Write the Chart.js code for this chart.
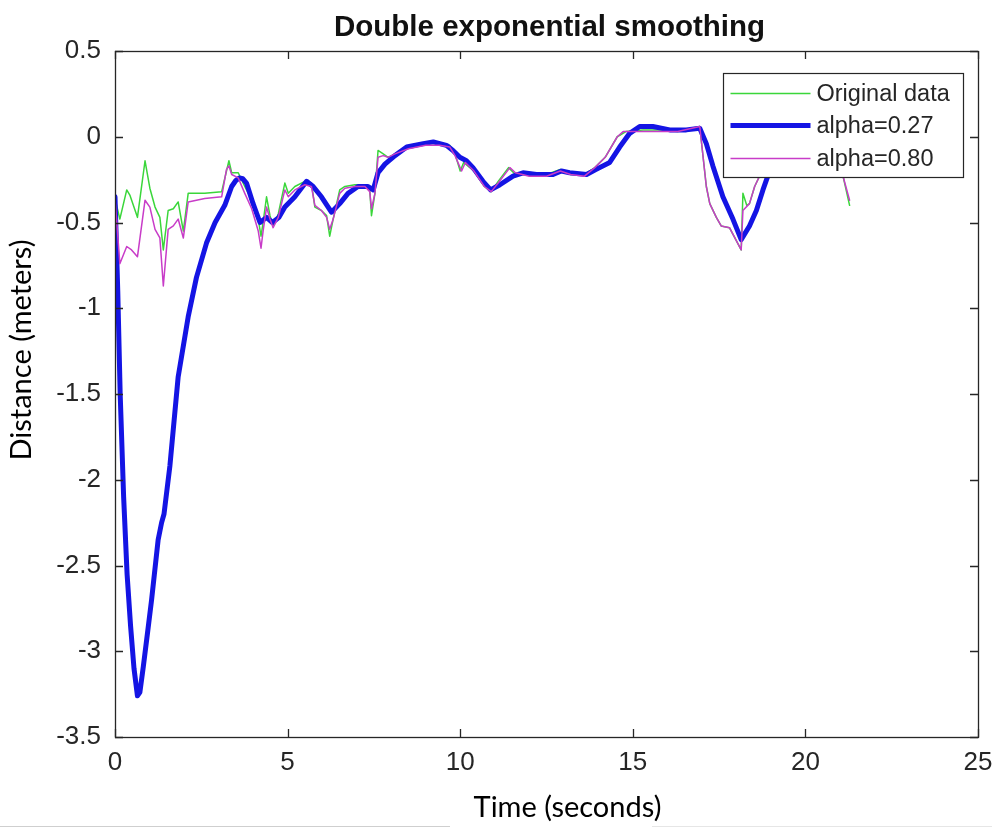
<!DOCTYPE html>
<html><head><meta charset="utf-8">
<script src="https://cdn.jsdelivr.net/npm/chart.js@4.4.1/dist/chart.umd.min.js"></script>
<style>html,body{margin:0;padding:0;background:#fff;}canvas{display:block}</style>
</head><body>
<canvas id="c" width="992" height="828"></canvas>
<script>
const TITLE = 'Double exponential smoothing';
const X_TITLE = 'Time (seconds)';
const Y_TITLE = 'Distance (meters)';
const X_TICKS = [0, 5, 10, 15, 20, 25];
const Y_TICKS = [0.5, 0, -0.5, -1, -1.5, -2, -2.5, -3, -3.5];
const X_TICK_LABELS = ['0', '5', '10', '15', '20', '25'];
const Y_TICK_LABELS = ['0.5', '0', '-0.5', '-1', '-1.5', '-2', '-2.5', '-3', '-3.5'];
const SERIES_NAMES = ['Original data', 'alpha=0.27', 'alpha=0.80'];

const originalTime = [
  0, 0.14, 0.34, 0.43, 0.65, 0.87, 1.01, 1.16, 1.30, 1.40,
  1.54, 1.69, 1.83, 1.98, 2.12, 2.60, 3.09, 3.30, 3.38, 3.57,
  3.76, 3.96, 4.15, 4.23, 4.29, 4.39, 4.49, 4.58, 4.73, 4.92,
  5.02, 5.21, 5.50, 5.69, 5.79, 5.98, 6.13, 6.22, 6.32, 6.51,
  6.66, 6.95, 7.24, 7.38, 7.43, 7.53, 7.62, 7.77, 7.91, 8.11,
  8.50, 9.00, 9.40, 9.70, 9.85, 10.00, 10.10, 10.40, 10.70, 10.90,
  11.10, 11.40, 11.60, 12.00, 12.50, 12.90, 13.20, 13.60, 13.90, 14.20,
  14.55, 14.80, 15.30, 15.80, 16.30, 16.94, 17.13, 17.23, 17.42, 17.56,
  17.80, 18.14, 18.19, 18.30, 18.38, 18.53, 18.67, 19.20, 19.80, 20.50,
  21.09, 21.28
];
const originalValues = [
  -0.36, -0.48, -0.31, -0.34, -0.47, -0.14, -0.30, -0.41, -0.47, -0.66,
  -0.43, -0.42, -0.38, -0.55, -0.33, -0.33, -0.32, -0.14, -0.21, -0.21,
  -0.29, -0.37, -0.48, -0.58, -0.50, -0.35, -0.46, -0.52, -0.45, -0.27,
  -0.33, -0.29, -0.26, -0.27, -0.41, -0.43, -0.46, -0.58, -0.48, -0.31,
  -0.29, -0.28, -0.28, -0.31, -0.46, -0.33, -0.08, -0.10, -0.12, -0.10,
  -0.06, -0.04, -0.04, -0.05, -0.10, -0.20, -0.15, -0.20, -0.29, -0.32,
  -0.26, -0.18, -0.22, -0.22, -0.22, -0.19, -0.22, -0.22, -0.18, -0.12,
  0.00, 0.03, 0.04, 0.04, 0.03, 0.06, -0.29, -0.39, -0.47, -0.52,
  -0.53, -0.66, -0.33, -0.40, -0.39, -0.29, -0.23, -0.02, 0.04, -0.05,
  -0.23, -0.40
];

const alpha27Time = [
  0, 0.08, 0.15, 0.25, 0.35, 0.45, 0.55, 0.65, 0.72, 0.82,
  0.95, 1.06, 1.25, 1.35, 1.42, 1.59, 1.83, 2.12, 2.36, 2.65,
  2.90, 3.18, 3.38, 3.50, 3.60, 3.70, 3.81, 4.00, 4.20, 4.39,
  4.56, 4.75, 4.92, 5.21, 5.55, 5.74, 5.98, 6.27, 6.51, 6.75,
  7.04, 7.33, 7.48, 7.62, 7.82, 8.11, 8.45, 8.93, 9.22, 9.60,
  9.79, 9.99, 10.18, 10.37, 10.66, 10.88, 11.15, 11.53, 11.82, 12.21,
  12.69, 12.93, 13.17, 13.66, 13.94, 14.33, 14.62, 14.91, 15.20, 15.58,
  16.07, 16.55, 16.94, 17.13, 17.32, 17.61, 17.90, 18.14, 18.38, 18.58,
  18.77, 18.91, 19.30, 19.90, 20.60, 21.28
];
const alpha27Values = [
  -0.35, -0.90, -1.50, -2.10, -2.55, -2.85, -3.10, -3.26, -3.24, -3.09,
  -2.88, -2.70, -2.35, -2.25, -2.20, -1.92, -1.40, -1.05, -0.82, -0.62,
  -0.50, -0.40, -0.29, -0.255, -0.24, -0.245, -0.27, -0.39, -0.50, -0.47,
  -0.50, -0.47, -0.41, -0.35, -0.26, -0.29, -0.35, -0.44, -0.39, -0.33,
  -0.29, -0.29, -0.31, -0.21, -0.16, -0.11, -0.06, -0.04, -0.03, -0.05,
  -0.08, -0.12, -0.14, -0.18, -0.26, -0.31, -0.28, -0.23, -0.21, -0.22,
  -0.22, -0.20, -0.21, -0.22, -0.19, -0.15, -0.06, 0.02, 0.06, 0.06,
  0.04, 0.04, 0.05, -0.04, -0.17, -0.35, -0.48, -0.60, -0.52, -0.43,
  -0.31, -0.23, -0.05, 0.03, -0.04, -0.17
];

const alpha80Time = [
  0, 0.14, 0.34, 0.48, 0.65, 0.87, 1.01, 1.16, 1.30, 1.40,
  1.54, 1.69, 1.83, 1.98, 2.12, 2.60, 3.09, 3.23, 3.30, 3.38,
  3.57, 3.76, 3.96, 4.15, 4.23, 4.29, 4.39, 4.49, 4.58, 4.73,
  4.92, 5.02, 5.21, 5.50, 5.69, 5.79, 5.98, 6.13, 6.22, 6.32,
  6.51, 6.66, 6.95, 7.24, 7.38, 7.43, 7.53, 7.62, 7.77, 7.91,
  8.11, 8.50, 9.00, 9.40, 9.70, 9.85, 10.04, 10.15, 10.40, 10.70,
  10.90, 11.10, 11.44, 11.60, 12.00, 12.50, 12.90, 13.20, 13.60, 13.90,
  14.20, 14.55, 14.72, 15.30, 15.80, 16.30, 16.94, 17.13, 17.23, 17.42,
  17.56, 17.80, 18.14, 18.19, 18.38, 18.53, 18.67, 19.20, 19.80, 20.50,
  21.09, 21.28
];
const alpha80Values = [
  -0.36, -0.74, -0.64, -0.66, -0.70, -0.37, -0.41, -0.54, -0.59, -0.87,
  -0.54, -0.52, -0.48, -0.59, -0.38, -0.36, -0.35, -0.19, -0.17, -0.22,
  -0.24, -0.33, -0.42, -0.55, -0.65, -0.55, -0.41, -0.48, -0.53, -0.47,
  -0.31, -0.35, -0.31, -0.28, -0.29, -0.40, -0.43, -0.47, -0.54, -0.48,
  -0.33, -0.30, -0.29, -0.29, -0.32, -0.42, -0.33, -0.12, -0.11, -0.12,
  -0.10, -0.07, -0.05, -0.05, -0.06, -0.11, -0.20, -0.15, -0.20, -0.29,
  -0.32, -0.27, -0.18, -0.21, -0.23, -0.23, -0.20, -0.22, -0.23, -0.18,
  -0.12, 0.00, 0.03, 0.03, 0.03, 0.03, 0.06, -0.29, -0.39, -0.47,
  -0.52, -0.53, -0.66, -0.43, -0.39, -0.29, -0.23, -0.02, 0.04, -0.05,
  -0.23, -0.37
];

const toPoints = (xs, ys) => xs.map((x, i) => ({ x: x, y: ys[i] }));
const COLORS = ['#3ad63a', '#1414e4', '#c83cc8'];
const WIDTHS = [1.5, 5, 1.5];
const AXIS_COLOR = '#262626';
const TICK_FONT = '"Liberation Sans", Arial, sans-serif';

const decor = {
  id: 'decor',
  beforeDraw(chart) {
    const ctx = chart.ctx;
    ctx.save();
    ctx.fillStyle = '#fff';
    ctx.fillRect(0, 0, chart.width, chart.height);
    ctx.restore();
  },
  afterDatasetsDraw(chart) {
    const { ctx, chartArea: a, scales } = chart;
    const xs = scales.x, ys = scales.y;
    ctx.save();
    ctx.strokeStyle = AXIS_COLOR;
    ctx.lineWidth = 1.3;
    ctx.strokeRect(Math.round(a.left) + 0.5, Math.round(a.top) + 0.5,
      Math.round(a.right - a.left), Math.round(a.bottom - a.top));
    const L = 8;
    ctx.beginPath();
    X_TICKS.forEach(v => {
      const px = Math.round(xs.getPixelForValue(v)) + 0.5;
      ctx.moveTo(px, a.bottom); ctx.lineTo(px, a.bottom - L);
      ctx.moveTo(px, a.top); ctx.lineTo(px, a.top + L);
    });
    Y_TICKS.forEach(v => {
      const py = Math.round(ys.getPixelForValue(v)) + 0.5;
      ctx.moveTo(a.left, py); ctx.lineTo(a.left + L, py);
      ctx.moveTo(a.right, py); ctx.lineTo(a.right - L, py);
    });
    ctx.stroke();

    const bw = 240, bh = 104;
    const bx = Math.round(a.right - 15 - bw) + 0.5, by = Math.round(a.top + 22) + 0.5;
    ctx.fillStyle = '#fff';
    ctx.fillRect(bx, by, bw, bh);
    ctx.strokeStyle = AXIS_COLOR;
    ctx.lineWidth = 1.2;
    ctx.strokeRect(bx, by, bw, bh);
    const rows = [by + 20, by + 52, by + 85];
    ctx.font = '23.5px ' + TICK_FONT;
    ctx.textBaseline = 'middle';
    ctx.textAlign = 'left';
    SERIES_NAMES.forEach((name, i) => {
      ctx.strokeStyle = COLORS[i];
      ctx.lineWidth = WIDTHS[i];
      ctx.beginPath();
      ctx.moveTo(bx + 7, rows[i]); ctx.lineTo(bx + 87, rows[i]);
      ctx.stroke();
      ctx.fillStyle = AXIS_COLOR;
      ctx.fillText(name, bx + 93, rows[i] + 1);
    });

    const cx = (a.left + a.right) / 2;
    ctx.fillStyle = '#111';
    ctx.font = 'bold 29.5px ' + TICK_FONT;
    ctx.textAlign = 'center';
    ctx.fillText(TITLE, cx + 3, 28);

    ctx.fillStyle = '#000';
    ctx.font = '29px Lato, "Open Sans", sans-serif';
    ctx.fillText(X_TITLE, cx + 21, 808);
    ctx.save();
    ctx.translate(22, (a.top + a.bottom) / 2 - 44);
    ctx.rotate(-Math.PI / 2);
    ctx.fillText(Y_TITLE, 0, 0);
    ctx.restore();

    ctx.strokeStyle = '#cfcfcf';
    ctx.lineWidth = 1;
    ctx.beginPath();
    ctx.moveTo(0, 826.5); ctx.lineTo(450, 826.5);
    ctx.stroke();
    ctx.strokeStyle = '#e6e6e6';
    ctx.beginPath();
    ctx.moveTo(652, 826.5); ctx.lineTo(992, 826.5);
    ctx.stroke();
    ctx.restore();
  }
};

new Chart(document.getElementById('c'), {
  type: 'line',
  data: {
    datasets: [
      { label: SERIES_NAMES[0], data: toPoints(originalTime, originalValues), borderColor: COLORS[0], borderWidth: WIDTHS[0], order: 3 },
      { label: SERIES_NAMES[1], data: toPoints(alpha27Time, alpha27Values), borderColor: COLORS[1], borderWidth: WIDTHS[1], order: 2 },
      { label: SERIES_NAMES[2], data: toPoints(alpha80Time, alpha80Values), borderColor: COLORS[2], borderWidth: WIDTHS[2], order: 1 }
    ]
  },
  options: {
    responsive: false,
    animation: false,
    devicePixelRatio: 1,
    layout: { padding: { left: 0, top: 51, right: 14, bottom: 0 } },
    elements: {
      point: { radius: 0, hoverRadius: 0 },
      line: { tension: 0, borderJoinStyle: 'round', borderCapStyle: 'round', fill: false }
    },
    plugins: { legend: { display: false }, tooltip: { enabled: false }, title: { display: false } },
    scales: {
      x: {
        type: 'linear', min: 0, max: 25,
        afterBuildTicks: s => { s.ticks = X_TICKS.map(v => ({ value: v })); },
        afterFit: s => { s.height = 91; s.paddingLeft = 0; s.paddingRight = 0; },
        ticks: {
          callback: (v) => X_TICK_LABELS[X_TICKS.indexOf(v)],
          font: { family: TICK_FONT, size: 26 }, color: AXIS_COLOR, padding: 10, maxRotation: 0, autoSkip: false
        },
        grid: { display: false, drawTicks: false },
        border: { display: false }
      },
      y: {
        type: 'linear', min: -3.5, max: 0.5,
        afterBuildTicks: s => { s.ticks = Y_TICKS.map(v => ({ value: v })); },
        afterFit: s => { s.width = 115; s.paddingTop = 0; s.paddingBottom = 0; },
        ticks: {
          callback: (v) => Y_TICK_LABELS[Y_TICKS.indexOf(v)],
          font: { family: TICK_FONT, size: 26 }, color: AXIS_COLOR, padding: 14, autoSkip: false
        },
        grid: { display: false, drawTicks: false },
        border: { display: false }
      }
    }
  },
  plugins: [decor]
});
</script>
</body></html>
